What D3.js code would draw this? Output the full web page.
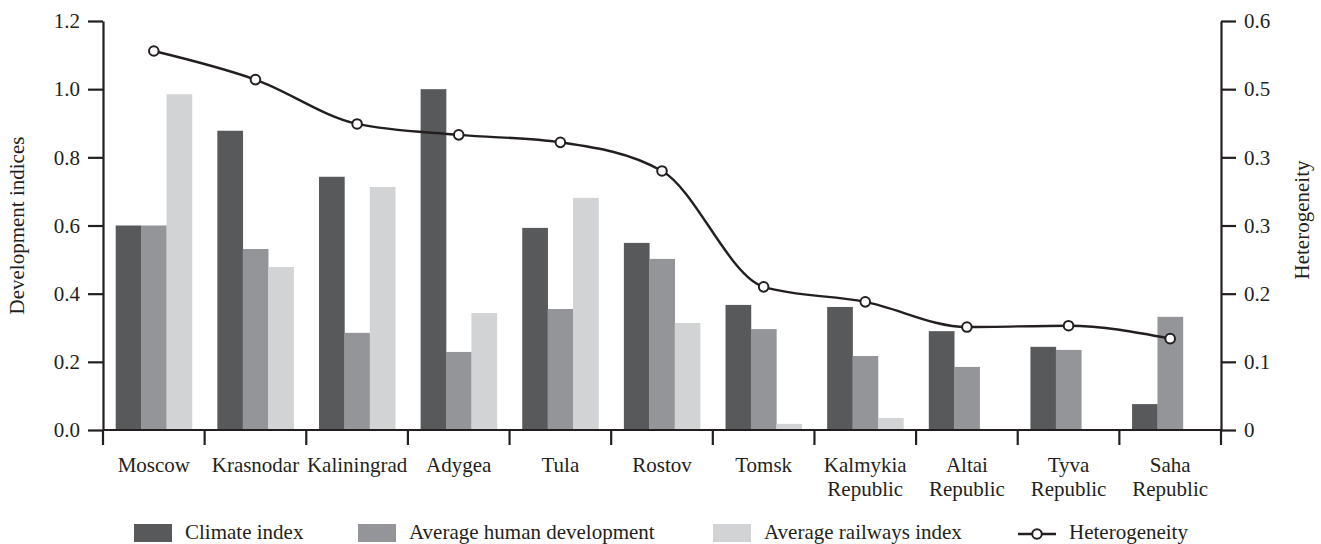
<!DOCTYPE html>
<html>
<head>
<meta charset="utf-8">
<script src="https://cdn.jsdelivr.net/npm/d3@7"></script>
<style>
  html, body { margin: 0; padding: 0; background: #fff; }
  svg { display: block; }
  text { font-family: "Liberation Serif", "Times New Roman", serif; fill: #231f20; }
</style>
</head>
<body>
<svg id="chart" width="1321" height="544"></svg>
<script>
const categories = ["Moscow", "Krasnodar", "Kaliningrad", "Adygea", "Tula", "Rostov", "Tomsk",
  "Kalmykia\nRepublic", "Altai\nRepublic", "Tyva\nRepublic", "Saha\nRepublic"];
const climateIndex = [0.60, 0.878, 0.743, 1.00, 0.593, 0.549, 0.367, 0.361, 0.290, 0.244, 0.076];
const humanDevelopment = [0.60, 0.531, 0.285, 0.229, 0.355, 0.502, 0.296, 0.217, 0.185, 0.235, 0.332];
const railwaysIndex = [0.985, 0.478, 0.713, 0.343, 0.681, 0.314, 0.018, 0.035, 0, 0, 0];
const heterogeneity = [0.556, 0.514, 0.449, 0.433, 0.422, 0.380, 0.210, 0.188, 0.151, 0.153, 0.134];
const leftTicks = [0, 0.2, 0.4, 0.6, 0.8, 1.0, 1.2];
const rightTicks = [0, 0.1, 0.2, 0.3, 0.4, 0.5, 0.6];
const rightTickLabels = ["0", "0.1", "0.2", "0.3", "0.3", "0.5", "0.6"];
const seriesNames = ["Climate index", "Average human development", "Average railways index"];
const lineName = "Heterogeneity";

const colors = ["#58595b", "#939598", "#d1d3d4"];
const ink = "#231f20";
const fontSize = 21;

const svg = d3.select("#chart");
const pL = 103, pR = 1221, pT = 21, pB = 430;

const x0 = d3.scaleBand().domain(categories).range([pL, pR]).paddingInner(0.25).paddingOuter(0.125);
const x1 = d3.scaleBand().domain([0, 1, 2]).range([0, x0.bandwidth()]);
const yL = d3.scaleLinear().domain([0, 1.2]).range([pB, pT]);
const yR = d3.scaleLinear().domain([0, 0.6]).range([pB, pT]);

const series = [climateIndex, humanDevelopment, railwaysIndex];

// bars
const groups = svg.append("g").selectAll("g").data(categories).join("g")
  .attr("transform", d => `translate(${x0(d)},0)`);
groups.selectAll("rect").data((d, i) => series.map((s, k) => ({ k, v: s[i] })))
  .join("rect")
  .attr("x", d => x1(d.k))
  .attr("width", x1.bandwidth() + 0.3)
  .attr("y", d => yL(d.v))
  .attr("height", d => pB - yL(d.v))
  .attr("fill", d => colors[d.k]);

// left axis
const axL = svg.append("g").attr("transform", `translate(${pL},0)`)
  .call(d3.axisLeft(yL).tickValues(leftTicks).tickFormat(d3.format(".1f")).tickSize(15).tickSizeOuter(0).tickPadding(8));
// right axis
const axR = svg.append("g").attr("transform", `translate(${pR},0)`)
  .call(d3.axisRight(yR).tickValues(rightTicks).tickFormat((d, i) => rightTickLabels[i]).tickSize(15).tickSizeOuter(0).tickPadding(8));
// bottom axis with boundary ticks
const boundaries = d3.range(categories.length + 1).map(i => pL + i * x0.step());
const axB = svg.append("g");
axB.append("line").attr("x1", pL).attr("x2", pR).attr("y1", pB).attr("y2", pB)
  .attr("stroke", ink).attr("stroke-width", 2.2);
axB.selectAll("line.t").data(boundaries).join("line").attr("class", "t")
  .attr("x1", d => d).attr("x2", d => d).attr("y1", pB).attr("y2", pB + 15)
  .attr("stroke", ink).attr("stroke-width", 2.2);
axB.selectAll("text").data(categories).join("text")
  .attr("x", d => x0(d) + x0.bandwidth() / 2)
  .attr("y", 472)
  .attr("text-anchor", "middle")
  .attr("font-size", fontSize)
  .each(function (d) {
    const lines = d.split("\n");
    d3.select(this).selectAll("tspan").data(lines).join("tspan")
      .attr("x", x0(d) + x0.bandwidth() / 2)
      .attr("dy", (l, i) => i === 0 ? 0 : 23.5)
      .text(l => l);
  });

[axL, axR].forEach(ax => {
  ax.select(".domain").attr("stroke", ink).attr("stroke-width", 2.2);
  ax.selectAll(".tick line").attr("stroke", ink).attr("stroke-width", 2.2);
  ax.selectAll(".tick text").attr("font-size", fontSize).attr("fill", ink)
    .style("font-family", '"Liberation Serif", serif');
});

// axis titles
svg.append("text").attr("transform", `translate(24,${(pT + pB) / 2}) rotate(-90)`)
  .attr("text-anchor", "middle").attr("font-size", fontSize).text("Development indices");
svg.append("text").attr("transform", `translate(1309,220) rotate(-90)`)
  .attr("text-anchor", "middle").attr("font-size", fontSize).text("Heterogeneity");

// heterogeneity line
const cx = (d, i) => x0(categories[i]) + x0.bandwidth() / 2;
const line = d3.line().x((d, i) => cx(d, i)).y(d => yR(d)).curve(d3.curveMonotoneX);
svg.append("path").datum(heterogeneity).attr("d", line)
  .attr("fill", "none").attr("stroke", ink).attr("stroke-width", 2.4);
svg.append("g").selectAll("circle").data(heterogeneity).join("circle")
  .attr("cx", (d, i) => cx(d, i)).attr("cy", d => yR(d)).attr("r", 4.8)
  .attr("fill", "#fff").attr("stroke", ink).attr("stroke-width", 2);

// legend
const legend = svg.append("g");
const legendX = [134, 358, 713];
seriesNames.forEach((name, k) => {
  legend.append("rect").attr("x", legendX[k]).attr("y", 524).attr("width", 38).attr("height", 18)
    .attr("fill", colors[k]);
  legend.append("text").attr("x", legendX[k] + 51).attr("y", 539).attr("font-size", fontSize).text(name);
});
legend.append("line").attr("x1", 1018).attr("x2", 1056).attr("y1", 534).attr("y2", 534)
  .attr("stroke", ink).attr("stroke-width", 2.4);
legend.append("circle").attr("cx", 1037).attr("cy", 534).attr("r", 4.8)
  .attr("fill", "#fff").attr("stroke", ink).attr("stroke-width", 2);
legend.append("text").attr("x", 1069).attr("y", 539).attr("font-size", fontSize).text(lineName);
</script>
</body>
</html>
